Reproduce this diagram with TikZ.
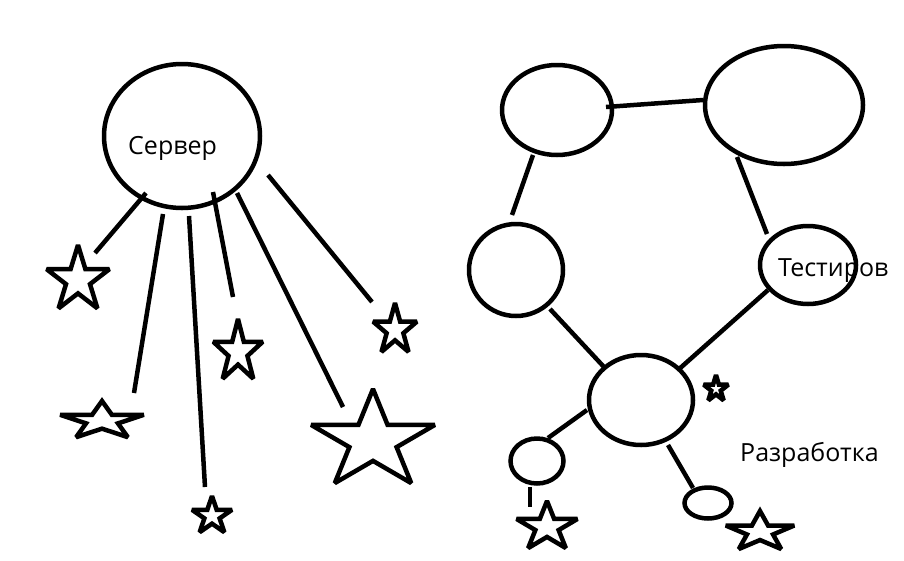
\documentclass[tikz,border=0pt]{standalone}
\usepackage{fontspec}
\setmainfont{Open Sans}
\usetikzlibrary{shapes.geometric}
\tikzset{
  ln/.style={line width=4.5pt},
  oval/.style={draw, ellipse, line width=4.5pt, inner sep=0pt},
  starline/.style={line width=4.5pt, line join=miter, miter limit=2.5},
  lbl/.style={font=\fontsize{25}{30}\selectfont, inner sep=0pt, anchor=base west},
}
\newcommand{\mystar}[4]{%
  \begin{scope}[shift={(#1,#2)}]
  \draw[starline] (270:{#3} and {#4}) -- (306:{0.382*#3} and {0.382*#4})
    -- (342:{#3} and {#4}) -- (18:{0.382*#3} and {0.382*#4})
    -- (54:{#3} and {#4}) -- (90:{0.382*#3} and {0.382*#4})
    -- (126:{#3} and {#4}) -- (162:{0.382*#3} and {0.382*#4})
    -- (198:{#3} and {#4}) -- (234:{0.382*#3} and {0.382*#4}) -- cycle;
  \end{scope}}
\begin{document}
\begin{tikzpicture}[x=1pt,y=-1pt]
\fill[white] (0,0) rectangle (904,560);
\useasboundingbox (0,0) rectangle (904,560);

% left: server
\node[oval, minimum width=156pt, minimum height=144pt] (srv) at (182,136) {};
\node[lbl] (tsrv) at (128,154) {Сервер};

\coordinate (a1) at (146,193); \coordinate (b1) at (95,253);
\coordinate (a2) at (163,214); \coordinate (b2) at (134,393);
\coordinate (a3) at (189,216); \coordinate (b3) at (205,487);
\coordinate (a4) at (213,192); \coordinate (b4) at (233,297);
\coordinate (a5) at (237,193); \coordinate (b5) at (343,407);
\coordinate (a6) at (268,175); \coordinate (b6) at (372,302);
\foreach \i in {1,...,6} \draw[ln] (a\i) -- (b\i);

\mystar{78}{280}{33}{35}
\mystar{102}{421}{44}{20}
\mystar{212}{516}{21}{20}
\mystar{238}{352}{26}{33}
\mystar{395}{330}{23}{27}
\mystar{373}{441}{65}{52}

% right: graph
\node[oval, minimum width=110pt, minimum height=90pt] (e1) at (557,110) {};
\node[oval, minimum width=158pt, minimum height=118pt] (e2) at (784,105) {};
\node[oval, minimum width=94pt, minimum height=92pt] (e3) at (516,270) {};
\node[oval, minimum width=96pt, minimum height=78pt] (e4) at (808,265) {};
\node[oval, minimum width=104pt, minimum height=90pt] (e5) at (641,400) {};
\node[oval, minimum width=53pt, minimum height=45pt] (e6) at (537,461) {};
\node[oval, minimum width=47pt, minimum height=31pt] (e7) at (708,503) {};

\node[lbl] (ttest) at (778,276) {Тестиров};
\node[lbl] (tdev) at (740,461) {Разработка};

\coordinate (c1) at (606,107); \coordinate (d1) at (703,100);
\coordinate (c2) at (533,155); \coordinate (d2) at (512,215);
\coordinate (c3) at (737,157); \coordinate (d3) at (767,234);
\coordinate (c4) at (550,309); \coordinate (d4) at (604,367);
\coordinate (c5) at (768,290); \coordinate (d5) at (678,370);
\coordinate (c6) at (587,410); \coordinate (d6) at (548,438);
\coordinate (c7) at (668,445); \coordinate (d7) at (693,488);
\coordinate (c8) at (530,487); \coordinate (d8) at (530,507);
\foreach \i in {1,...,8} \draw[ln] (c\i) -- (d\i);

\mystar{547}{527}{32}{26}
\mystar{760}{532}{36}{21}
\mystar{716}{389}{13}{14}
\end{tikzpicture}
\end{document}
